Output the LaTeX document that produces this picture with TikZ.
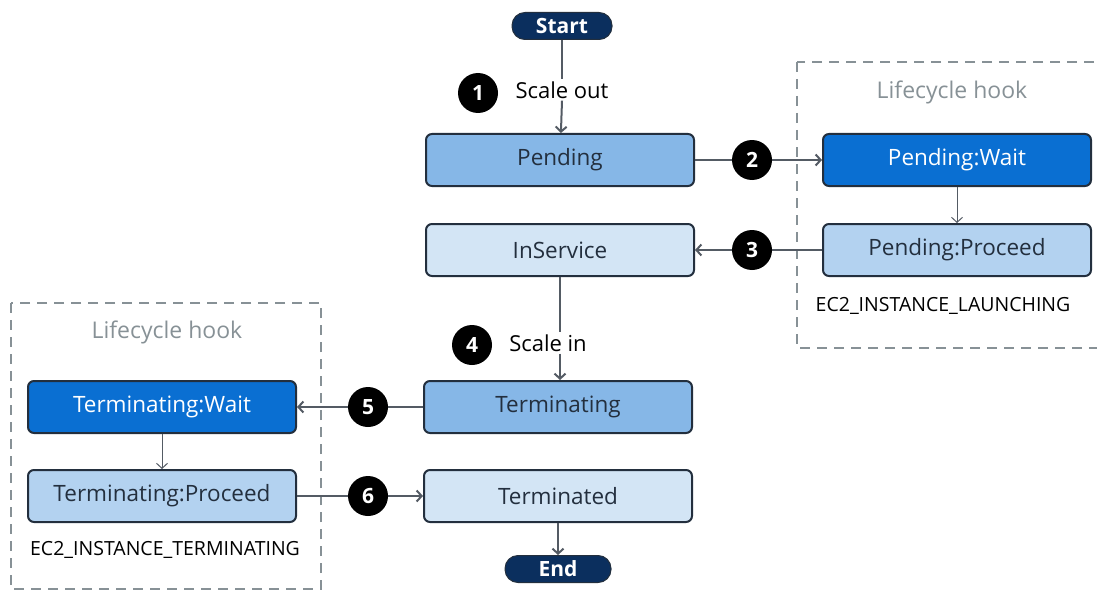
\documentclass[tikz,border=0pt]{standalone}
\usepackage{fontspec}
\setmainfont{Open Sans}
\usetikzlibrary{arrows.meta}
\definecolor{navy}{HTML}{0B2F5E}
\definecolor{edge}{HTML}{232F3E}
\definecolor{wire}{HTML}{545B64}
\definecolor{hookgray}{HTML}{879196}
\definecolor{waitblue}{HTML}{0A6FD2}
\definecolor{pendblue}{HTML}{86B7E7}
\definecolor{procblue}{HTML}{B3D2F0}
\definecolor{paleblue}{HTML}{D3E5F5}
\begin{document}
\begin{tikzpicture}[x=1pt, y=-1pt,
    state/.style={draw=edge, line width=2pt, rounded corners=6pt,
      minimum width=268pt, minimum height=52pt, text=edge,
      font=\fontsize{22.5}{26}\selectfont},
    waitstate/.style={state, fill=waitblue, text=white},
    pill/.style={draw=edge, line width=1pt, fill=navy, text=white, rounded corners=13pt,
      minimum height=27pt, inner sep=1pt, font=\fontsize{21}{24}\selectfont\bfseries},
    num/.style={circle, fill=black, text=white, minimum size=40pt, inner sep=0pt,
      font=\fontsize{21}{24}\selectfont\bfseries},
    lbl/.style={font=\fontsize{22}{26}\selectfont, inner sep=2pt},
    hooklbl/.style={text=hookgray, font=\fontsize{23}{27}\selectfont},
    event/.style={font=\fontsize{19.5}{23}\selectfont},
    hook/.style={draw=hookgray, line width=2pt, dash pattern=on 10pt off 7pt},
    wire/.style={draw=wire, line width=2pt, -{Straight Barb[length=5pt,width=11pt]}},
    thinwire/.style={draw=wire, line width=1pt, -{Straight Barb[length=5pt,width=11pt]}}]
  \useasboundingbox (0,0) rectangle (1097,591);

  \draw[hook] (797,62) rectangle (1110,348);
  \draw[hook] (11,303) rectangle (321,589);
  \node[hooklbl] (hookR) at (952,92) {Lifecycle hook};
  \node[hooklbl] (hookL) at (167,332) {Lifecycle hook};

  \node[pill, minimum width=100pt] (start) at (562,26) {Start};
  \node[state, fill=pendblue] (pending) at (560,160) {Pending};
  \node[state, fill=paleblue] (inservice) at (560,250) {InService};
  \node[waitstate] (pwait) at (957,160) {Pending:Wait};
  \node[state, fill=procblue] (pproceed) at (957,250) {Pending:Proceed};
  \node[event] (launch) at (943,306) {EC2\_INSTANCE\_LAUNCHING};

  \node[state, fill=pendblue] (terminating) at (558,407) {Terminating};
  \node[state, fill=paleblue] (terminated) at (558,496) {Terminated};
  \node[waitstate] (twait) at (162,407) {Terminating:Wait};
  \node[state, fill=procblue] (tproceed) at (162,496) {Terminating:Proceed};
  \node[event] (terminate) at (165,550) {EC2\_INSTANCE\_TERMINATING};
  \node[pill, minimum width=106pt] (end) at (558,569) {End};

  \node[lbl] (scaleout) at (562,90) {Scale out};
  \node[lbl] (scalein) at (548,343) {Scale in};

  \draw[wire, -] (start) -- (start |- scaleout.north);
  \draw[wire] (start |- scaleout.south) -- (pending);
  \draw[wire, -] (inservice) -- (inservice.south |- scalein.north);
  \draw[wire] (inservice.south |- scalein.south) -- (inservice.south |- terminating.north);
  \draw[wire] (pending) -- (pwait);
  \draw[wire] (pproceed) -- (inservice);
  \draw[wire] (terminating) -- (twait);
  \draw[wire] (tproceed) -- (terminated);
  \draw[wire] (terminated) -- (end);
  \draw[thinwire] (pwait) -- (pproceed);
  \draw[thinwire] (twait) -- (tproceed);

  \node[num] (n1) at (478,93) {1};
  \node[num] (n2) at (752,160) {2};
  \node[num] (n3) at (752,250) {3};
  \node[num] (n4) at (472,345) {4};
  \node[num] (n5) at (368,407) {5};
  \node[num] (n6) at (368,496) {6};
\end{tikzpicture}
\end{document}
